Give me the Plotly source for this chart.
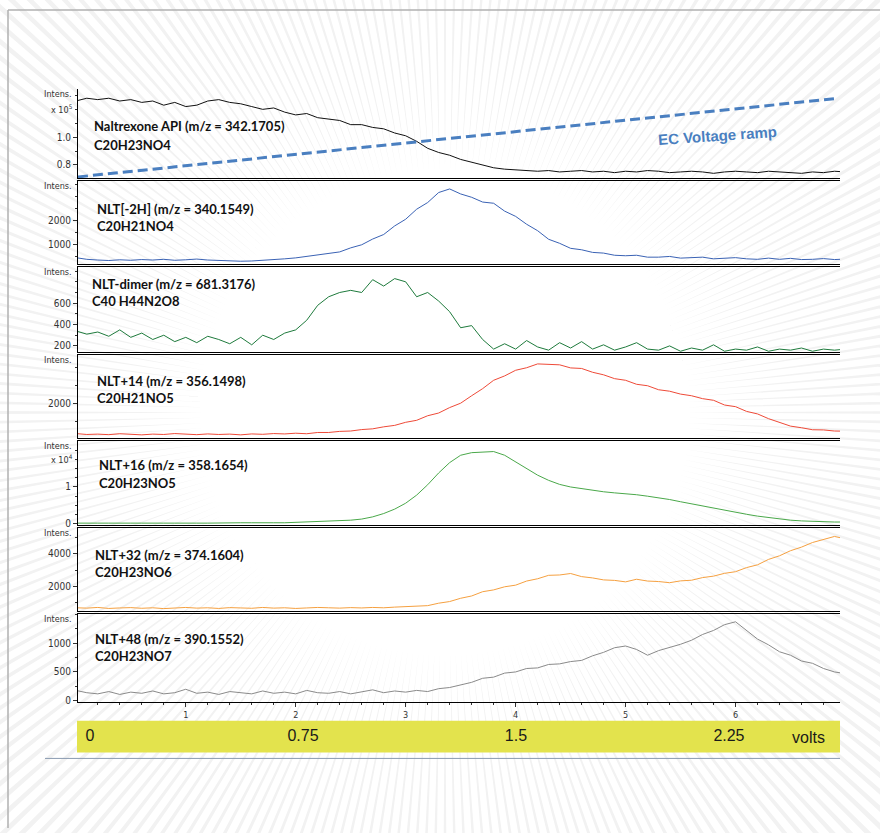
import math
import plotly.graph_objects as go

# ---------------- data ----------------
time_min = [i / 10 for i in range(71)]

naltrexone_x1e5 = [1.26, 1.28, 1.27, 1.28, 1.26, 1.27, 1.25, 1.26, 1.23, 1.25,
                   1.22, 1.23, 1.26, 1.27, 1.25, 1.24, 1.22, 1.20, 1.21, 1.18,
                   1.16, 1.17, 1.14, 1.13, 1.12, 1.09, 1.09, 1.07, 1.06, 1.03,
                   1.01, 0.97, 0.92, 0.89, 0.87, 0.84, 0.82, 0.80, 0.78, 0.77,
                   0.765, 0.76, 0.755, 0.76, 0.75, 0.755, 0.76, 0.75, 0.755, 0.745,
                   0.755, 0.75, 0.76, 0.755, 0.745, 0.75, 0.755, 0.75, 0.74, 0.75,
                   0.755, 0.75, 0.745, 0.755, 0.75, 0.745, 0.74, 0.75, 0.745, 0.755,
                   0.75]

nlt_m2h = [450, 380, 350, 330, 360, 340, 370, 350, 380, 340,
           360, 390, 350, 330, 320, 300, 310, 330, 360, 400,
           440, 510, 550, 640, 690, 860, 990, 1230, 1420, 1780,
           2060, 2480, 2760, 3180, 3330, 3120, 2980, 2780, 2730, 2400,
           2180, 1850, 1580, 1220, 1050, 840, 780, 670, 640, 550,
           530, 550, 470, 470, 500, 430, 440, 470, 400, 430,
           450, 400, 380, 430, 380, 420, 370, 380, 410, 370,
           390]

nlt_dimer = [340, 310, 330, 290, 350, 280, 320, 260, 300, 240,
             280, 230, 290, 260, 220, 280, 210, 300, 260, 320,
             350, 440, 580, 660, 700, 720, 700, 820, 760, 830,
             800, 660, 700, 620, 520, 370, 390, 260, 170, 220,
             170, 250, 190, 160, 230, 180, 240, 170, 210, 160,
             190, 230, 170, 160, 200, 150, 180, 160, 210, 150,
             170, 160, 190, 150, 170, 160, 180, 150, 170, 160,
             170]

nlt_p14 = [350, 300, 320, 290, 340, 300, 280, 320, 300, 350,
           310, 290, 330, 300, 320, 280, 330, 310, 350, 330,
           370, 340, 410, 410, 470, 490, 570, 610, 720, 800,
           970, 1080, 1330, 1480, 1780, 2020, 2430, 2820, 3280, 3520,
           3830, 3970, 4180, 4170, 4130, 3960, 3930, 3720, 3580, 3370,
           3280, 3060, 2980, 2760, 2680, 2520, 2430, 2270, 2180, 1920,
           1830, 1570, 1430, 1170, 980, 760, 670, 560, 550, 490,
           480]

nlt_p16_x1e4 = [0.02, 0.03, 0.02, 0.02, 0.03, 0.02, 0.02, 0.03, 0.02, 0.02,
                0.03, 0.02, 0.02, 0.03, 0.02, 0.03, 0.03, 0.02, 0.03, 0.03,
                0.04, 0.04, 0.05, 0.06, 0.08, 0.10, 0.13, 0.19, 0.28, 0.40,
                0.56, 0.78, 1.06, 1.38, 1.66, 1.86, 1.93, 1.95, 1.96, 1.86,
                1.68, 1.48, 1.32, 1.18, 1.07, 1.00, 0.95, 0.90, 0.87, 0.84,
                0.82, 0.79, 0.75, 0.71, 0.66, 0.60, 0.54, 0.48, 0.42, 0.36,
                0.31, 0.26, 0.21, 0.17, 0.13, 0.10, 0.08, 0.065, 0.055, 0.05,
                0.05]

nlt_p32 = [700, 680, 720, 660, 690, 710, 670, 700, 650, 690,
           720, 680, 700, 660, 710, 690, 670, 720, 680, 700,
           660, 690, 720, 700, 680, 710, 690, 720, 700, 740,
           760, 800, 830, 980, 1080, 1280, 1420, 1680, 1790, 1980,
           2080, 2330, 2470, 2680, 2700, 2790, 2600, 2520, 2400, 2370,
           2280, 2440, 2330, 2300, 2230, 2340, 2380, 2540, 2630, 2800,
           2900, 3150, 3320, 3650, 3870, 4180, 4400, 4680, 4850, 5050,
           4900]

nlt_p48 = [180, 140, 120, 160, 110, 150, 130, 170, 120, 140,
           200, 130, 150, 110, 160, 140, 120, 170, 130, 150,
           120, 180, 140, 130, 160, 120, 150, 190, 140, 170,
           150, 180, 160, 210, 230, 280, 320, 390, 410, 480,
           500, 560, 570, 630, 640, 680, 700, 780, 840, 920,
           950, 890, 790, 870, 920, 980, 1050, 1150, 1220, 1320,
           1370, 1220, 1070, 970, 850, 790, 690, 650, 560, 500,
           470]

ramp_time = [0.02, 6.9]
ramp_volts = [0.0, 2.6]

volt_ticks = [0, 0.75, 1.5, 2.25]
volt_labels = ["0", "0.75", "1.5", "2.25"]
time_ticks = [1, 2, 3, 4, 5, 6]

series_names = ["Naltrexone API (m/z = 342.1705)", "NLT[-2H] (m/z = 340.1549)",
                "NLT-dimer (m/z = 681.3176)", "NLT+14 (m/z = 356.1498)",
                "NLT+16 (m/z = 358.1654)", "NLT+32 (m/z = 374.1604)",
                "NLT+48 (m/z = 390.1552)"]
series_formulas = ["C20H23NO4", "C20H21NO4", "C40 H44N2O8", "C20H21NO5",
                   "C20H23NO5", "C20H23NO6", "C20H23NO7"]
series_values = [naltrexone_x1e5, nlt_m2h, nlt_dimer, nlt_p14,
                 nlt_p16_x1e4, nlt_p32, nlt_p48]
y_tickvals = [[0.8, 1.0], [1000, 2000], [200, 400, 600], [2000], [0, 1],
              [2000, 4000], [0, 500, 1000]]
y_ticktext = [["0.8", "1.0"], ["1000", "2000"], ["200", "400", "600"], ["2000"],
              ["0", "1"], ["2000", "4000"], ["0", "500", "1000"]]

# ---------------- layout / style ----------------
W, H = 880, 833


def fx(p):
    return p / W


def fy(p):
    return 1 - p / H


colors = ["#111111", "#3a62b4", "#1e7a3c", "#ee4a38", "#4aa84a", "#f5a040", "#8a8a8a"]
panel_px = [(90, 179), (182, 266), (269, 354), (357, 441), (444, 528), (531, 615), (618, 706)]
y_ranges = [[0.707, 1.343], [166.7, 3666.7], [144, 935], [87, 4678],
            [-0.026, 2.237], [485, 5576], [-17, 1500]]
minor_dt = [0.1, 500, 100, 1000, 0.25, 1000, 250]
label_pos = [(92, 127, 146), (95, 210, 227), (90, 286, 303), (95, 383, 400),
             (97, 468, 486), (93, 558, 575), (93, 643, 660)]

tick_font = dict(family="Liberation Sans Narrow, DejaVu Sans Condensed, Arial Narrow, sans-serif",
                 size=10, color="#333333")
label_font = dict(family="Lato, Open Sans, sans-serif", size=13, color="#111111")

fig = go.Figure()
layout = dict(width=W, height=H, margin=dict(l=0, r=0, t=0, b=0),
              paper_bgcolor="white", plot_bgcolor="rgba(0,0,0,0)",
              showlegend=False)

annotations = []
for i in range(7):
    n = "" if i == 0 else str(i + 1)
    top, bot = panel_px[i]
    fig.add_trace(go.Scatter(x=time_min, y=series_values[i], mode="lines",
                             line=dict(color=colors[i], width=1),
                             xaxis="x" + n, yaxis="y" + n, hoverinfo="skip"))
    last = (i == 6)
    layout["xaxis" + n] = dict(
        domain=[fx(78), fx(840)], range=[0.02, 6.95], anchor="y" + n,
        showline=True, linecolor="black", linewidth=1, mirror=(i > 0),
        showgrid=False, zeroline=False,
        showticklabels=last, ticks="outside" if last else "",
        tickvals=time_ticks if last else None, ticklen=4, tickcolor="#333",
        tickfont=dict(tick_font, size=9),
        minor=dict(ticks="outside", ticklen=2, dtick=0.2, tick0=0, tickcolor="#333",
                   tickmode="linear") if last else None,
    )
    layout["yaxis" + n] = dict(
        domain=[fy(bot), fy(top)], range=y_ranges[i], anchor="x" + n,
        showline=True, linecolor="black", linewidth=1,
        showgrid=False, zeroline=False,
        tickmode="array", tickvals=y_tickvals[i], ticktext=y_ticktext[i],
        ticks="outside", ticklen=4, tickcolor="#333", tickfont=tick_font,
        minor=dict(ticks="outside", ticklen=2, dtick=minor_dt[i], tick0=0,
                   tickcolor="#333", tickmode="linear"),
    )
    lx, ly1, ly2 = label_pos[i]
    annotations.append(dict(text="<b>" + series_names[i] + "</b>", x=fx(lx), y=fy(ly1),
                            xref="paper", yref="paper", xanchor="left", yanchor="middle",
                            showarrow=False, font=label_font))
    annotations.append(dict(text="<b>" + series_formulas[i] + "</b>", x=fx(lx), y=fy(ly2),
                            xref="paper", yref="paper", xanchor="left", yanchor="middle",
                            showarrow=False, font=label_font))
    annotations.append(dict(text="Intens.", x=fx(74), y=fy(top + 5), xref="paper", yref="paper",
                            xanchor="right", yanchor="middle", showarrow=False,
                            font=dict(tick_font, size=9)))

annotations.append(dict(text="x 10<sup>5</sup>", x=fx(75), y=fy(110), xref="paper", yref="paper",
                        xanchor="right", yanchor="middle", showarrow=False,
                        font=dict(tick_font, size=9)))
annotations.append(dict(text="x 10<sup>4</sup>", x=fx(75), y=fy(462), xref="paper", yref="paper",
                        xanchor="right", yanchor="middle", showarrow=False,
                        font=dict(tick_font, size=9)))

# EC voltage ramp (overlay axis on panel 1)
fig.add_trace(go.Scatter(x=ramp_time, y=ramp_volts, mode="lines",
                         line=dict(color="#4a7fc0", width=3, dash="10px,5px"),
                         xaxis="x", yaxis="y8", hoverinfo="skip"))
layout["yaxis8"] = dict(overlaying="y", anchor="x", range=[-0.034, 2.905], visible=False)
annotations.append(dict(text="<b>EC Voltage ramp</b>", x=fx(717), y=fy(136), xref="paper",
                        yref="paper", xanchor="center", yanchor="middle",
                        showarrow=False, textangle=-4,
                        font=dict(family="Liberation Sans, Arial, sans-serif", size=15,
                                  color="#4a7fc0")))

# volts bar
fig.add_trace(go.Scatter(x=volt_ticks, y=[0.5] * len(volt_ticks), mode="text",
                         text=volt_labels, textposition="middle center",
                         textfont=dict(family="Liberation Sans, Arial, sans-serif", size=16,
                                       color="#1a1a1a"),
                         xaxis="x9", yaxis="y9", hoverinfo="skip", cliponaxis=False))
layout["xaxis9"] = dict(domain=[fx(77), fx(840)], range=[-0.0458, 2.641], anchor="y9",
                        visible=False)
layout["yaxis9"] = dict(domain=[fy(757), fy(725)], range=[0, 1], anchor="x9", visible=False)
annotations.append(dict(text="volts", x=fx(808), y=fy(742), xref="paper", yref="paper",
                        xanchor="center", yanchor="middle", showarrow=False,
                        font=dict(family="Liberation Sans, Arial, sans-serif", size=16,
                                  color="#1a1a1a")))

# decorative background rays
cx, cy, r0, R = 445, 415, 240, 1000
h = math.radians(0.3)
parts = []
for k in range(288):
    a = math.radians(k * 1.25)
    px0, py0 = cx + r0 * math.cos(a), cy + r0 * math.sin(a)
    px1, py1 = cx + R * math.cos(a - h), cy + R * math.sin(a - h)
    px2, py2 = cx + R * math.cos(a + h), cy + R * math.sin(a + h)
    parts.append(f"M{fx(px0):.5f},{fy(py0):.5f} L{fx(px1):.5f},{fy(py1):.5f} "
                 f"L{fx(px2):.5f},{fy(py2):.5f} Z")
shapes = [
    dict(type="path", path=" ".join(parts), xref="paper", yref="paper",
         fillcolor="#f2f2f2", line=dict(width=0), layer="below"),
    dict(type="rect", xref="x9 domain", yref="y9 domain", x0=0, x1=1, y0=0, y1=1,
         fillcolor="#e3e34d", line=dict(width=0), layer="below"),
    dict(type="line", xref="paper", yref="paper", x0=fx(8), x1=1, y0=fy(10), y1=fy(10),
         line=dict(color="#b0b0b0", width=1.5)),
    dict(type="line", xref="paper", yref="paper", x0=fx(8), x1=fx(8), y0=fy(10), y1=0,
         line=dict(color="#b0b0b0", width=1.5)),
    dict(type="line", xref="paper", yref="paper", x0=fx(45), x1=fx(840), y0=fy(763), y1=fy(763),
         line=dict(color="#8a9ab0", width=1)),
]

layout["annotations"] = annotations
layout["shapes"] = shapes
fig.update_layout(**layout)
fig.write_html("out.html", config={"displayModeBar": False},
               post_script="document.body.style.margin='0px';")
